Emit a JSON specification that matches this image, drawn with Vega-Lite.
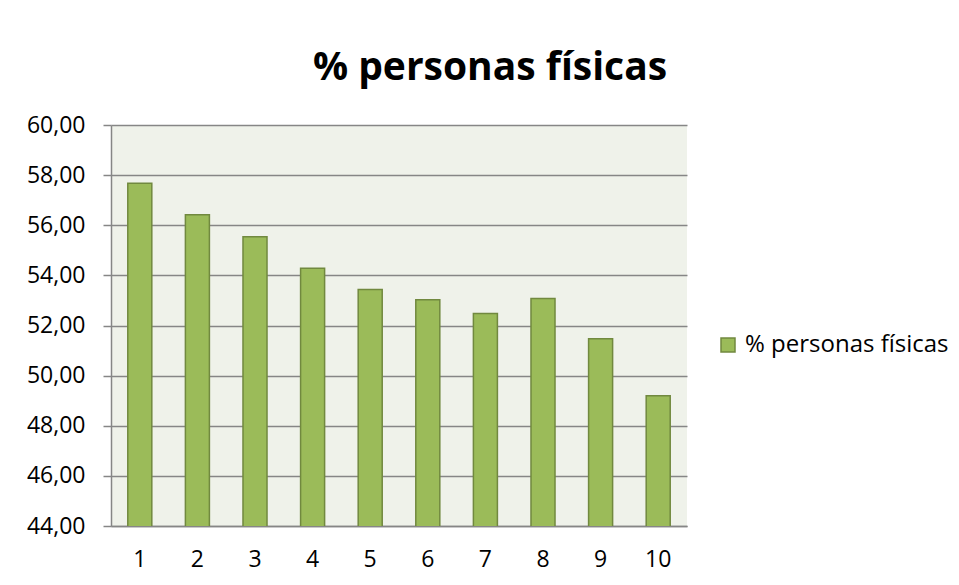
{
  "$schema": "https://vega.github.io/schema/vega-lite/v6.json",
  "autosize": {"type": "none"},
  "width": 576,
  "height": 401,
  "padding": {"left": 111, "top": 125, "right": 272, "bottom": 59},
  "background": "white",
  "title": {
    "text": "% personas físicas",
    "font": "Open Sans",
    "fontSize": 39,
    "fontWeight": "bold",
    "color": "#000000",
    "anchor": "middle",
    "dx": 91,
    "offset": 26
  },
  "data": {
    "values": [
      {"grupo": 1, "serie": "% personas físicas", "valor": 57.68},
      {"grupo": 2, "serie": "% personas físicas", "valor": 56.42},
      {"grupo": 3, "serie": "% personas físicas", "valor": 55.54},
      {"grupo": 4, "serie": "% personas físicas", "valor": 54.28},
      {"grupo": 5, "serie": "% personas físicas", "valor": 53.44},
      {"grupo": 6, "serie": "% personas físicas", "valor": 53.03},
      {"grupo": 7, "serie": "% personas físicas", "valor": 52.48},
      {"grupo": 8, "serie": "% personas físicas", "valor": 53.08},
      {"grupo": 9, "serie": "% personas físicas", "valor": 51.47},
      {"grupo": 10, "serie": "% personas físicas", "valor": 49.2}
    ]
  },
  "mark": {"type": "bar", "stroke": "#71893F", "strokeWidth": 1.5, "clip": true},
  "encoding": {
    "x": {
      "field": "grupo",
      "type": "ordinal",
      "scale": {"paddingInner": 0.583, "paddingOuter": 0.2915},
      "axis": {
        "title": null,
        "labelAngle": 0,
        "ticks": false,
        "labelPadding": 22,
        "labelFont": "Open Sans",
        "labelFontSize": 23,
        "labelColor": "#000000",
        "domainColor": "#868686",
        "domainWidth": 1.5,
        "grid": false
      }
    },
    "y": {
      "field": "valor",
      "type": "quantitative",
      "scale": {"domain": [44, 60], "zero": false, "nice": false},
      "axis": {
        "title": null,
        "values": [44, 46, 48, 50, 52, 54, 56, 58, 60],
        "labelExpr": "replace(format(datum.value, '.2f'), '.', ',')",
        "labelFont": "Open Sans",
        "labelFontSize": 23,
        "labelColor": "#000000",
        "labelPadding": 18,
        "tickSize": 8,
        "tickColor": "#868686",
        "tickWidth": 1.5,
        "domainColor": "#868686",
        "domainWidth": 1.5,
        "grid": true,
        "gridColor": "#868686",
        "gridWidth": 1.3,
        "gridOpacity": 1
      }
    },
    "color": {
      "field": "serie",
      "type": "nominal",
      "scale": {"range": ["#9BBB59"]},
      "legend": {
        "title": null,
        "orient": "none",
        "legendX": 605,
        "legendY": 208,
        "padding": 0,
        "symbolType": "square",
        "symbolSize": 196,
        "symbolStrokeColor": "#71893F",
        "symbolStrokeWidth": 1.5,
        "symbolOpacity": 1,
        "labelFont": "Open Sans",
        "labelFontSize": 24,
        "labelColor": "#000000",
        "labelOffset": 5,
        "labelLimit": 400
      }
    }
  },
  "config": {
    "view": {"fill": "#EFF2EA", "stroke": null}
  }
}
